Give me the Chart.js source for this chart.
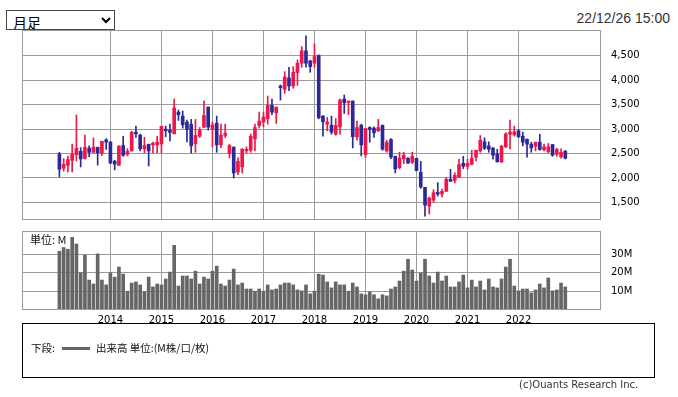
<!DOCTYPE html>
<html>
<head>
<meta charset="utf-8">
<script src="https://cdn.jsdelivr.net/npm/chart.js@4.4.1/dist/chart.umd.min.js"></script>
<style>
  body { margin: 0; background: #fff; }
  #page { position: relative; width: 678px; height: 397px; overflow: hidden; font-family: "DejaVu Sans", sans-serif; }
  canvas { position: absolute; left: 0; }
  #span { position: absolute; left: 6px; top: 10px; width: 109px; height: 20px; font-size: 14px; padding: 0 2px; border: 1px solid #444; border-radius: 0; background: #fff; font-family: "Noto Sans CJK JP", sans-serif; }
  #stamp { position: absolute; right: 8px; top: 10px; font: 14px "Liberation Sans", Arial, sans-serif; color: #333; }
  #unit { position: absolute; left: 30px; top: 231px; font: 11px "Noto Sans CJK JP", sans-serif; color: #111; }
  #legendBox { position: absolute; left: 22px; top: 323px; width: 631px; height: 53px; border: 1px solid #000; font: 10.5px "Noto Sans CJK JP", sans-serif; color: #111; }
  #legendBox .row { position: absolute; left: 8px; top: 16px; white-space: nowrap; }
  #legendBox .swatch { display: inline-block; width: 28px; height: 3px; background: #666; vertical-align: middle; margin: 0 6px 2px 7px; }
  #credit { position: absolute; left: 519px; top: 379px; font: 10px "DejaVu Sans", sans-serif; color: #333; }
</style>
</head>
<body>
<div id="page">
  <select id="span"><option>月足</option></select>
  <div id="stamp">22/12/26 15:00</div>
  <canvas id="price" width="678" height="230" style="top:0"></canvas>
  <canvas id="volume" width="678" height="110" style="top:222px"></canvas>
  <div id="unit">単位: M</div>
  <div id="legendBox"><div class="row">下段:<span class="swatch"></span>出来高 単位:(M株/口/枚)</div></div>
  <div id="credit">(c)Ouants Research Inc.</div>
</div>
<script>
// monthly candles, Jan 2013 .. Dec 2022 (index 0 = Jan 2013)
var opens = [2490,2200,2260,2363,2473,2548,2400,2610,2527,2630,2514,2781,
  2740,2345,2260,2664,2486,2555,2938,2877,2596,2692,2678,2678,
  2699,3000,2980,2904,3349,3267,3144,3100,2699,2856,3041,3452,
  3000,3123,2678,2870,2507,2630,2123,2226,2555,2568,2801,3075,
  3144,3212,3486,3336,3884,3815,4048,3884,4158,4350,4603,4397,
  4350,4507,3267,3103,3082,2897,3048,3617,3548,3576,2843,3082,
  2479,3034,3021,2966,3082,2555,2788,2445,2212,2390,2404,2322,
  2404,2116,1808,1425,1548,1705,1671,1726,1973,1952,2014,2301,
  2240,2281,2425,2555,2740,2658,2616,2493,2329,2637,2897,2884,
  2966,2856,2795,2692,2651,2733,2582,2541,2685,2486,2431,2548];
var highs = [2527,2397,2450,2692,3288,2623,2877,2660,2822,2630,2753,2805,
  2740,2363,2664,2856,2603,2955,3062,2897,2836,2692,2733,2856,
  3060,3062,3103,3617,3390,3370,3185,3200,3199,3034,3582,3452,
  3144,3267,3103,3103,2692,2640,2411,2603,2637,2897,3103,3349,
  3349,3678,3617,3452,3904,4178,4267,4281,4418,4692,4911,4410,
  4747,4521,3280,3240,3267,3219,3617,3699,3576,3576,3164,3100,
  3014,3048,3048,3199,3082,2774,2808,2445,2527,2527,2418,2527,
  2404,2342,1808,1610,1760,1904,1774,2014,2178,2110,2384,2445,
  2384,2568,2568,2870,2822,2740,2616,2589,2671,2925,3185,3062,
  2993,2938,2795,2733,2733,2897,2692,2706,2685,2610,2596,2568];
var lows = [2020,2140,2123,2123,2349,2226,2385,2435,2514,2265,2462,2585,
  2290,2165,2255,2445,2452,2548,2829,2555,2514,2247,2514,2514,
  2514,2843,2760,2904,3178,3021,2740,2514,2527,2829,3030,2980,
  2637,2527,2623,2829,2411,2000,2068,2103,2514,2527,2555,3021,
  3048,3103,3295,3117,3596,3733,3788,3836,3897,4267,4267,4164,
  4267,3212,2856,2966,2897,2877,2897,3322,3295,2616,2774,2452,
  2418,2733,2829,2952,2568,2527,2397,2103,2185,2295,2295,2295,
  2144,1788,1219,1260,1507,1630,1610,1726,1932,1897,2007,2192,
  2178,2267,2349,2527,2582,2527,2384,2329,2315,2623,2596,2856,
  2829,2658,2425,2527,2555,2568,2555,2514,2445,2445,2404,2390];
var closes = [2180,2281,2377,2486,2610,2390,2630,2527,2630,2514,2753,2735,
  2308,2285,2651,2466,2548,2938,2904,2596,2664,2555,2712,2733,
  3058,2966,2932,3432,3295,3089,2993,2660,2870,2980,3281,3041,
  3089,2678,2877,2918,2664,2103,2342,2589,2589,2856,3034,3164,
  3247,3486,3349,3452,3850,4069,3884,4164,4350,4603,4350,4281,
  4487,3233,3151,3144,2938,3075,3596,3541,3576,2843,3034,2678,
  3014,2993,2925,3034,2589,2733,2431,2185,2404,2466,2308,2445,
  2150,1815,1445,1589,1699,1671,1726,1973,1932,2055,2274,2240,
  2301,2404,2568,2774,2610,2589,2466,2329,2651,2904,2938,2945,
  2843,2733,2692,2616,2733,2582,2637,2637,2466,2582,2527,2404];
// volume, millions
var volumes = [31.6,33.6,32.7,39.1,35.5,20.0,29.5,16.1,14.0,30.2,16.1,13.5,
  20.0,17.7,23.1,19.3,10.1,14.5,15.1,13.5,9.9,17.7,12.4,14.0,
  13.5,16.7,20.4,34.8,12.9,18.3,18.3,16.7,20.9,14.0,17.7,16.7,
  20.9,23.6,14.0,12.9,16.1,22.0,13.5,14.5,11.3,11.3,10.1,11.3,
  10.1,13.5,10.8,11.3,13.5,14.5,14.5,13.5,10.8,10.3,13.5,8.7,
  10.1,19.3,18.8,15.1,11.9,15.1,13.5,13.5,10.1,14.5,12.4,8.7,
  8.2,9.7,8.2,6.0,8.2,7.6,11.3,12.4,15.6,20.9,27.3,21.5,
  15.6,19.9,27.3,18.3,14.5,20.4,15.6,18.3,12.4,12.4,15.1,18.8,
  11.9,16.1,12.4,15.6,10.8,16.7,12.4,11.9,16.7,23.1,27.3,12.9,
  10.3,11.3,11.3,9.2,10.8,14.0,11.9,17.2,10.3,10.8,14.5,12.4];

var yearLabels = ["2014","2015","2016","2017","2018","2019","2020","2021","2022"];
var yearTicks = [12, 24, 36, 48, 60, 72, 84, 96, 108];
var priceTicks = [1500, 2000, 2500, 3000, 3500, 4000, 4500];
var volumeTicks = [10, 20, 30];

var UP = '#ee1749';
var DOWN = '#2b2898';
var GRID = '#9a9a9a';

var candleColors = [];
var wickData = [];
var bodyData = [];
var volumeData = [];
for (var i = 0; i < opens.length; i++) {
    candleColors.push(closes[i] >= opens[i] ? UP : DOWN);
    wickData.push({x: i, y: [lows[i], highs[i]]});
    bodyData.push({x: i, y: [opens[i], closes[i]]});
    volumeData.push({x: i, y: volumes[i]});
}

var framePlugin = {
    id: 'frame',
    afterDraw: function(chart) {
        var a = chart.chartArea;
        var ctx = chart.ctx;
        ctx.save();
        ctx.strokeStyle = GRID;
        ctx.lineWidth = 1;
        ctx.strokeRect(Math.round(a.left) + 0.5, Math.round(a.top) + 0.5,
            Math.round(a.right - a.left) - 1, Math.round(a.bottom - a.top) - 1);
        ctx.restore();
    }
};

var tickFont = {family: 'DejaVu Sans', size: 10};

// no extra room for labels at the axis ends
function noPadding(scale) {
    scale.paddingTop = 0;
    scale.paddingBottom = 0;
    scale.paddingLeft = 0;
    scale.paddingRight = 0;
}

function yearAxis(showLabels, height) {
    return {
        type: 'linear',
        min: -8.8,
        max: 127.4,
        offset: false,
        afterBuildTicks: function(scale) {
            scale.ticks = yearTicks.map(function(v) { return {value: v}; });
        },
        afterFit: function(scale) {
            scale.height = height;
            noPadding(scale);
        },
        ticks: {
            display: showLabels,
            autoSkip: false,
            maxRotation: 0,
            padding: 4,
            color: '#000',
            font: tickFont,
            callback: function(v) { return yearLabels[yearTicks.indexOf(v)]; }
        },
        grid: {color: GRID, drawTicks: false, offset: false},
        border: {display: false}
    };
}

function rightAxis(min, max, ticks, fmt) {
    return {
        position: 'right',
        min: min,
        max: max,
        afterBuildTicks: function(scale) {
            scale.ticks = ticks.map(function(v) { return {value: v}; });
        },
        afterFit: function(scale) {
            scale.width = 77;
            noPadding(scale);
        },
        ticks: {padding: 10, color: '#000', font: tickFont, callback: fmt},
        grid: {color: GRID, drawTicks: false},
        border: {display: false}
    };
}

var priceChart = new Chart(document.getElementById('price'), {
    type: 'bar',
    data: {
        datasets: [
            {
                label: 'wick',
                data: wickData,
                backgroundColor: candleColors,
                barThickness: 1,
                grouped: false,
                order: 2
            },
            {
                label: 'body',
                data: bodyData,
                backgroundColor: candleColors,
                barThickness: 3,
                minBarLength: 1,
                grouped: false,
                order: 1
            }
        ]
    },
    options: {
        responsive: false,
        animation: false,
        devicePixelRatio: 1,
        layout: {padding: {left: 22, top: 30, right: 0, bottom: 10}},
        plugins: {legend: {display: false}, tooltip: {enabled: false}},
        scales: {
            x: yearAxis(false, 0),
            y: rightAxis(1140, 5030, priceTicks, function(v) { return v.toLocaleString('en-US'); })
        }
    },
    plugins: [framePlugin]
});

var volumeChart = new Chart(document.getElementById('volume'), {
    type: 'bar',
    data: {
        datasets: [{
            label: '出来高',
            data: volumeData,
            backgroundColor: '#666666',
            barThickness: 3,
            grouped: false
        }]
    },
    options: {
        responsive: false,
        animation: false,
        devicePixelRatio: 1,
        layout: {padding: {left: 22, top: 9, right: 0, bottom: 0}},
        plugins: {legend: {display: false}, tooltip: {enabled: false}},
        scales: {
            x: yearAxis(true, 22),
            y: rightAxis(0, 42.5, volumeTicks, function(v) { return v + 'M'; })
        }
    },
    plugins: [framePlugin]
});
</script>
</body>
</html>
